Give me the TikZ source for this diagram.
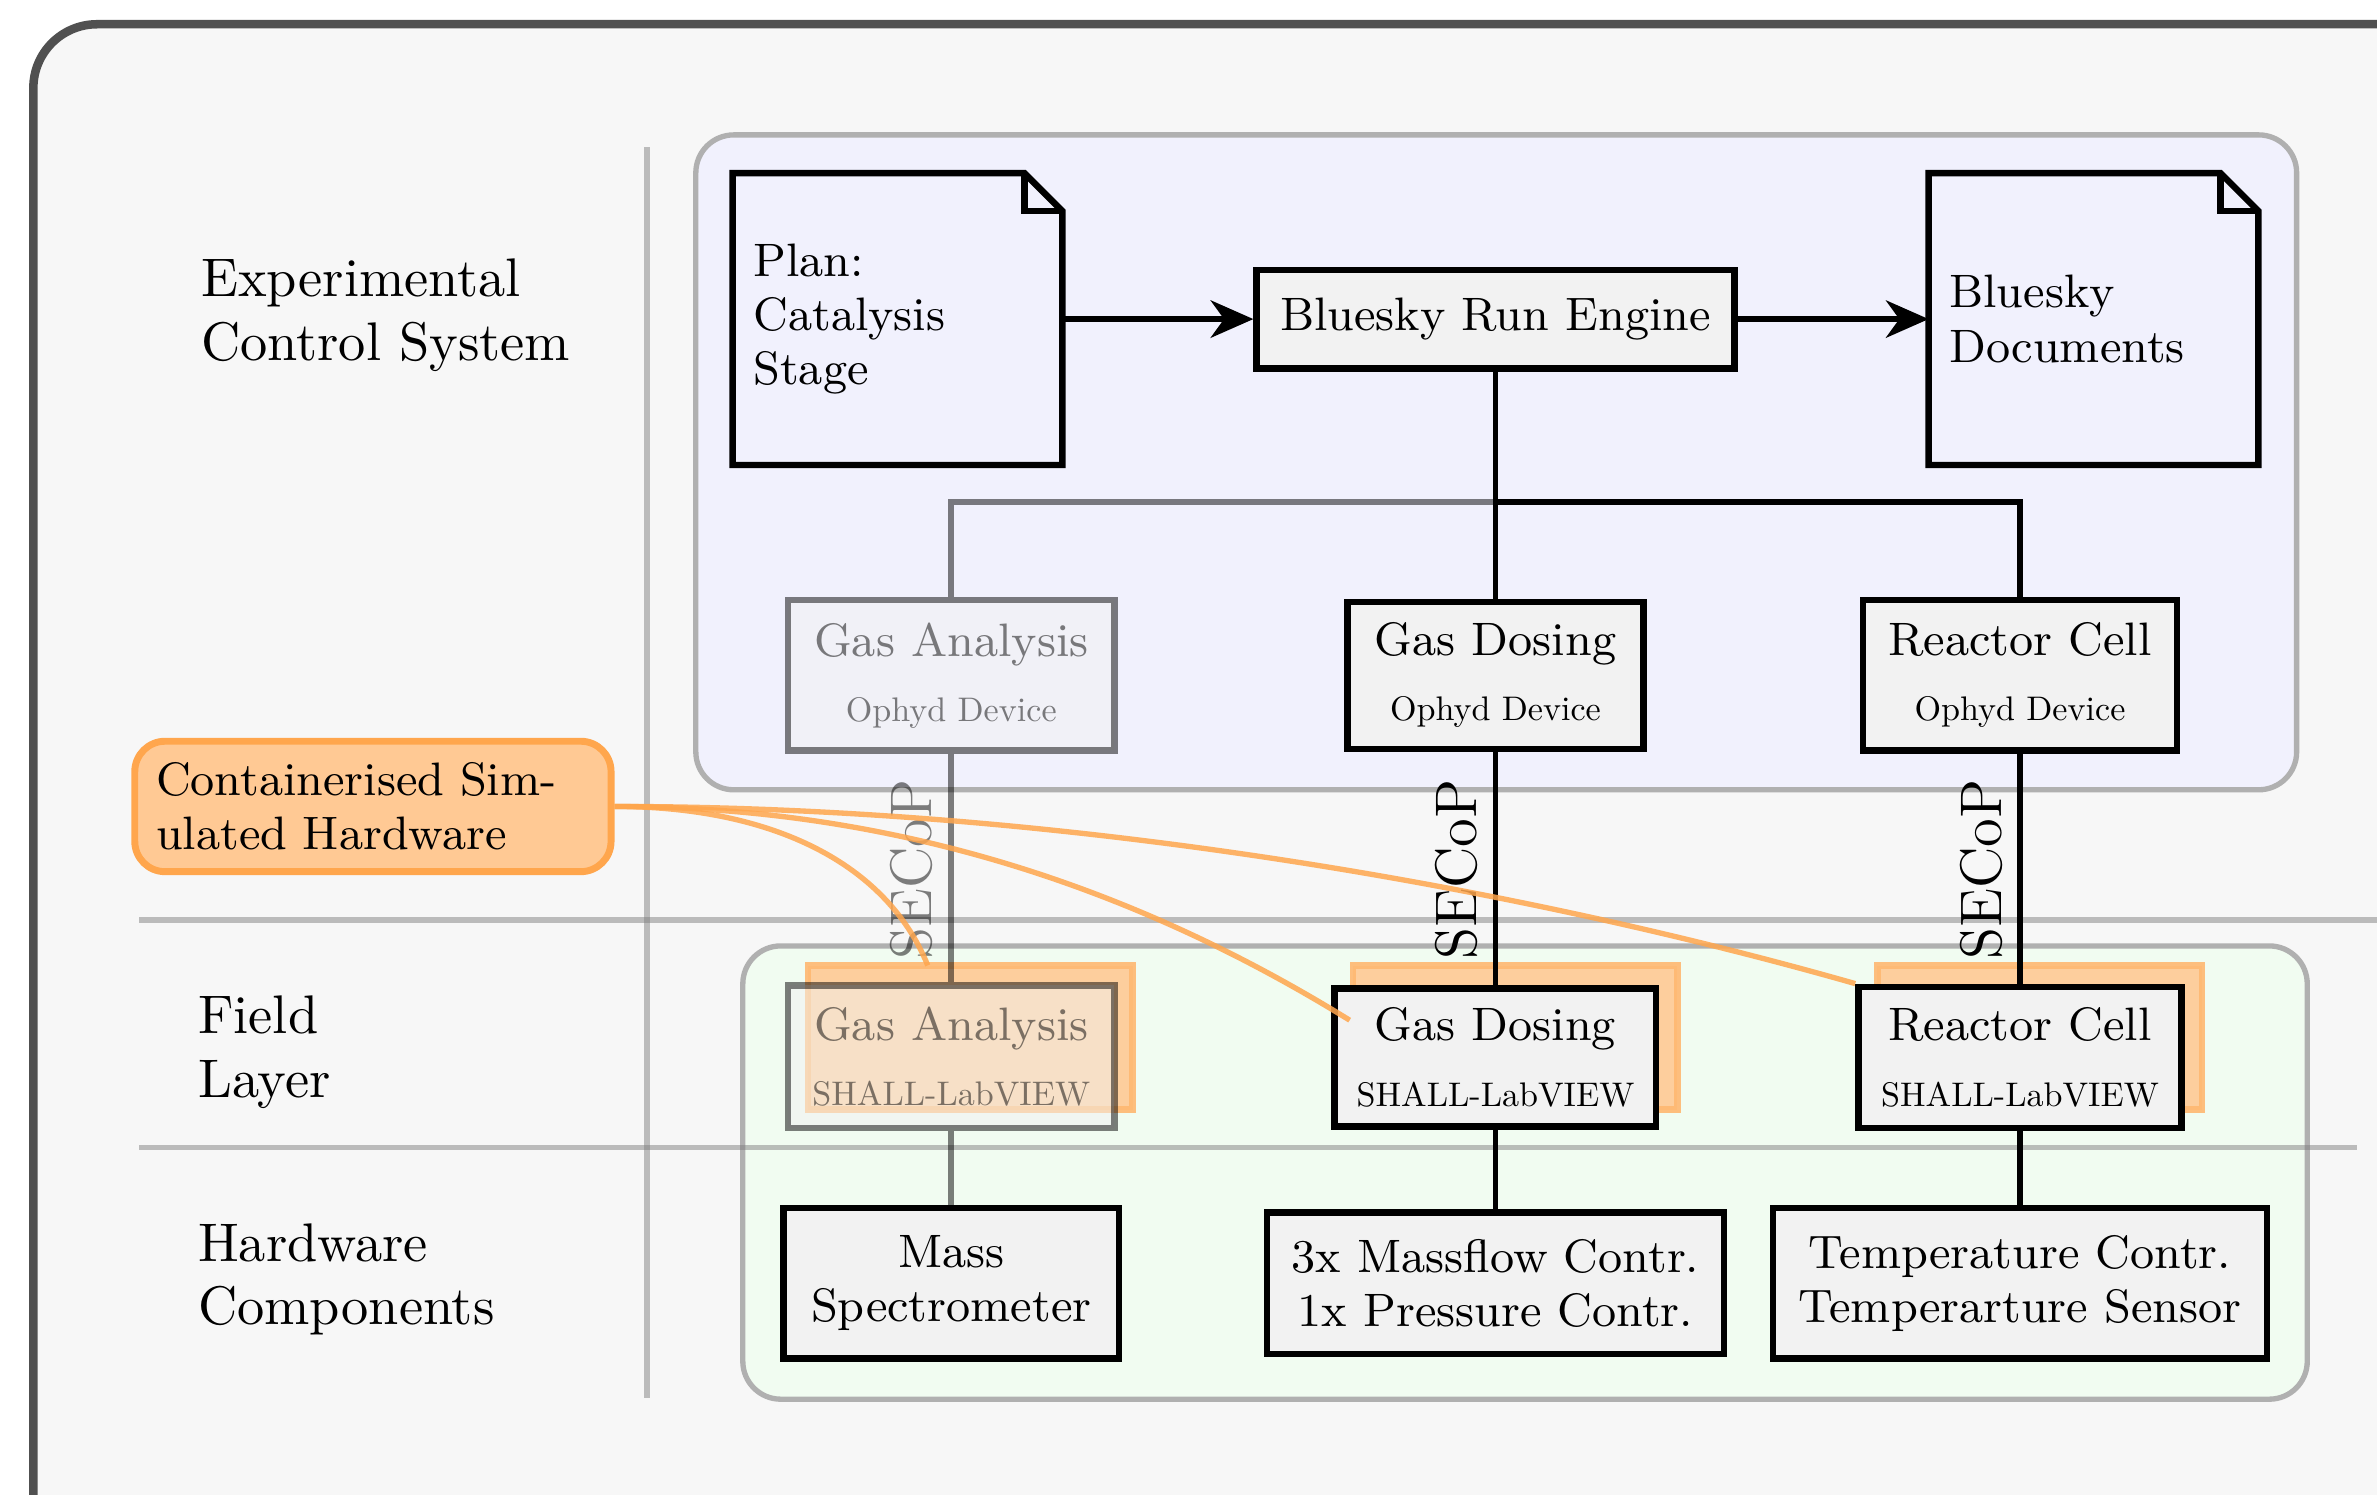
\documentclass[tikz,border=0pt]{standalone}
\usepackage{graphicx}
\usetikzlibrary{arrows.meta}
\definecolor{bgc}{HTML}{F7F7F7}
\definecolor{framec}{HTML}{505050}
\definecolor{bluefill}{HTML}{F1F1FD}
\definecolor{greenfill}{HTML}{F1FCF1}
\definecolor{boxfill}{HTML}{F2F2F2}
\definecolor{orfill}{HTML}{FFC994}
\definecolor{orline}{HTML}{FFA64D}
\definecolor{regline}{HTML}{B0B0B0}
\newcommand{\mynodefont}{\fontsize{8.8}{10.2}\selectfont}
\newcommand{\mysub}[1]{{\fontsize{10}{12}\selectfont\scalebox{0.64}{#1}}}
\newcommand{\mysidefont}{\fontsize{10.2}{11.9}\selectfont}
\newcommand{\mysecopfont}{\fontsize{11}{13}\selectfont}
\tikzset{
  box/.style={draw, line width=1.2pt, fill=boxfill, font=\mynodefont, align=center, inner sep=0pt},
  docbox/.style={draw=none, font=\mynodefont, align=left, inner xsep=0.13cm, inner ysep=0pt, text width=1.9cm, minimum height=1.91cm},
  docline/.style={line width=1.2pt, line join=miter},
  conn/.style={line width=1.1pt},
  arr/.style={line width=1.1pt, -{Stealth[length=8pt,width=7pt,inset=2.5pt]}},
  shadowbox/.style={fill=orfill, draw=orline!80, line width=1.2pt, opacity=0.9, minimum width=2.14cm, minimum height=0.95cm, inner sep=0pt},
  simwire/.style={draw=orline, line width=1pt, opacity=0.85},
  sidelabel/.style={font=\mysidefont, align=left, anchor=west, inner sep=0pt},
  secop/.style={font=\mysecopfont, rotate=90, inner sep=0pt},
  region/.style={draw=regline, line width=1pt, rounded corners=0.25cm},
  sepline/.style={draw=gray, opacity=0.5, line width=1.1pt},
}
\begin{document}
\begin{tikzpicture}[x=0.01cm, y=-0.01cm]
\useasboundingbox (0,0) rectangle (1568,986);
\clip (0,0) rectangle (1568,986);
\fill[white] (0,0) rectangle (1568,986);
% outer frame
\draw[fill=bgc, draw=framec, line width=1.6pt, rounded corners=0.42cm] (22,16) rectangle (1620,1040);

% regions
\draw[region, fill=bluefill] (459,89) rectangle (1515,521);
\draw[region, fill=greenfill] (490,624) rectangle (1522,923);

% separators
\draw[sepline] (427,97) -- (427,922);
\draw[sepline] (92,607) -- (1568,607);
\draw[sepline] (92,757) -- (1555,757);

% side labels
\node[sidelabel] (lblecs) at (132,208) {Experimental\\Control System};
\node[sidelabel] (lblfield) at (130,694) {Field\\Layer};
\node[sidelabel] (lblhw) at (130,844) {Hardware\\Components};

% documents
\node[docbox] (plan) at (592,210.5) {Plan:\\Catalysis\\Stage};
\node[docbox] (docs) at (1381,210.5) {Bluesky\\Documents};
\foreach \d in {plan,docs}{
  \draw[docline] (\d.north west) -- ([xshift=-0.25cm]\d.north east) -- ([yshift=-0.25cm]\d.north east) -- (\d.south east) -- (\d.south west) -- cycle;
  \draw[docline] ([xshift=-0.25cm]\d.north east) -- ([xshift=-0.25cm,yshift=-0.25cm]\d.north east) -- ([yshift=-0.25cm]\d.north east);
}

% run engine
\node[box, minimum width=3.15cm, minimum height=0.65cm] (engine) at (986.5,210.5) {Bluesky Run Engine};
\draw[arr] (plan.east) -- (engine.west);
\draw[arr] (engine.east) -- (docs.west);

% ophyd devices
\begin{scope}[opacity=0.5]
\node[box, minimum width=2.15cm, minimum height=0.99cm] (oGA) at (627.5,445.5) {Gas Analysis\\[2pt]\mysub{Ophyd Device}};
\end{scope}
\node[box, minimum width=1.95cm, minimum height=0.97cm] (oGD) at (986.5,445.5) {Gas Dosing\\[2pt]\mysub{Ophyd Device}};
\node[box, minimum width=2.07cm, minimum height=0.99cm] (oRC) at (1332.5,445.5) {Reactor Cell\\[2pt]\mysub{Ophyd Device}};

\coordinate (bus) at (986.5,331);
\draw[conn] (engine.south) -- (oGD.north);
\draw[conn] (bus) -| (oRC.north);
\draw[conn, opacity=0.5] (bus) -| (oGA.north);

% simulated hardware shadows
\node[shadowbox] (shGA) at (640,684.5) {};
\node[shadowbox] (shGD) at (999.5,684.5) {};
\node[shadowbox] (shRC) at (1345.5,684.5) {};

% SHALL nodes
\begin{scope}[opacity=0.5]
\node[box, minimum width=2.15cm, minimum height=0.94cm] (sGA) at (627.5,697) {Gas Analysis\\[2pt]\mysub{SHALL-LabVIEW}};
\end{scope}
\node[box, minimum width=2.12cm, minimum height=0.91cm] (sGD) at (986.5,697.5) {Gas Dosing\\[2pt]\mysub{SHALL-LabVIEW}};
\node[box, minimum width=2.13cm, minimum height=0.93cm] (sRC) at (1332.5,697.5) {Reactor Cell\\[2pt]\mysub{SHALL-LabVIEW}};

% hardware
\node[box, minimum width=2.21cm, minimum height=0.99cm] (hMS) at (627.5,846.5) {Mass\\Spectrometer};
\node[box, minimum width=3.01cm, minimum height=0.93cm] (hMF) at (986.5,846.5) {3x Massflow Contr.\\1x Pressure Contr.};
\node[box, minimum width=3.26cm, minimum height=0.99cm] (hTC) at (1332.5,846.5) {Temperature Contr.\\Temperarture Sensor};

% SECoP links
\draw[conn, opacity=0.5] (oGA.south) -- (sGA.north);
\draw[conn] (oGD.south) -- (sGD.north);
\draw[conn] (oRC.south) -- (sRC.north);
\node[secop, opacity=0.5] (secGA) at (601,573.5) {SECoP};
\node[secop] (secGD) at (961,573.5) {SECoP};
\node[secop] (secRC) at (1307,573.5) {SECoP};

% hardware links
\draw[conn, opacity=0.5] (sGA.south) -- (hMS.north);
\draw[conn] (sGD.south) -- (hMF.north);
\draw[conn] (sRC.south) -- (hTC.north);

% containerised simulated hardware
\node[draw=orline, fill=orfill, line width=1.3pt, rounded corners=0.2cm, minimum width=3.14cm, minimum height=0.86cm, text width=2.86cm, inner xsep=0.14cm, align=left, font=\mynodefont] (sim) at (246,532) {Containerised Sim-\\ulated Hardware};

\coordinate (endGA) at ([xshift=-0.28cm,yshift=-0.02cm]shGA.north);
\coordinate (endGD) at ([yshift=0.115cm]shGD.west);
\draw[simwire] (sim.east) .. controls (510,532) and (585,570) .. (endGA);
\draw[simwire] (sim.east) .. controls (580,532) and (740,580) .. (endGD);
\draw[simwire] (sim.east) .. controls (700,532) and (1000,585) .. (sRC.north west);
\end{tikzpicture}
\end{document}
